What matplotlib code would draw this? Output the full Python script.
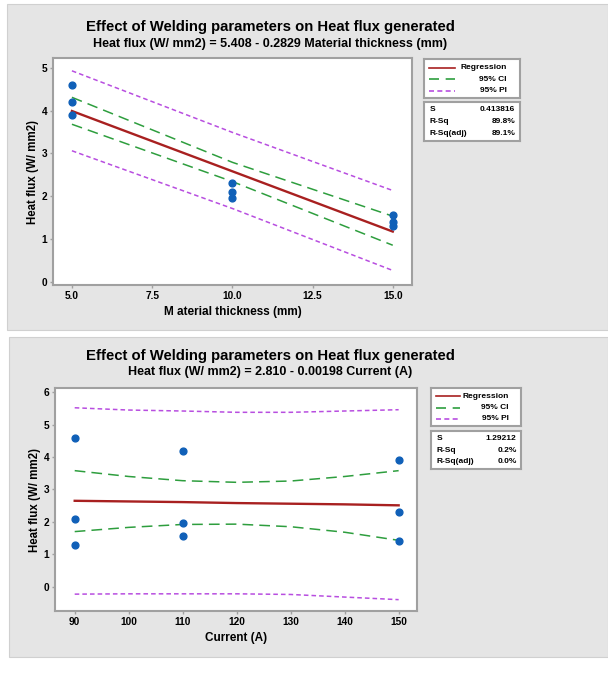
import matplotlib
matplotlib.use("Agg")
import matplotlib.pyplot as plt
from matplotlib.patches import Rectangle

plt.rcParams['font.family'] = ['Liberation Sans', 'DejaVu Sans']
plt.rcParams['font.weight'] = 'bold'

W, H = 608, 691

# top chart: material thickness
thick_x = [5, 5, 5, 10, 10, 10, 15, 15, 15]
thick_y = [4.6, 4.2, 3.9, 2.3, 2.1, 1.95, 1.55, 1.4, 1.3]
thick_band_x = [5, 10, 15]
thick_reg = [3.99, 2.58, 1.17]
thick_ci_hi = [4.31, 2.79, 1.53]
thick_ci_lo = [3.68, 2.34, 0.85]
thick_pi_hi = [4.93, 3.49, 2.13]
thick_pi_lo = [3.06, 1.71, 0.26]
thick_ticks = [5.0, 7.5, 10.0, 12.5, 15.0]
thick_stats = ["0.413816", "89.8%", "89.1%"]

# bottom chart: current
cur_x = [90, 90, 90, 110, 110, 110, 150, 150, 150]
cur_y = [4.6, 2.1, 1.3, 4.2, 1.95, 1.55, 3.9, 2.3, 1.4]
cur_band_x = [90, 100, 110, 120, 130, 140, 150]
cur_reg = [2.65, 2.63, 2.61, 2.58, 2.56, 2.54, 2.51]
cur_ci_hi = [3.58, 3.40, 3.27, 3.22, 3.26, 3.40, 3.58]
cur_ci_lo = [1.70, 1.83, 1.92, 1.93, 1.85, 1.68, 1.43]
cur_pi_hi = [5.52, 5.45, 5.42, 5.38, 5.38, 5.42, 5.46]
cur_pi_lo = [-0.23, -0.22, -0.22, -0.22, -0.24, -0.32, -0.40]
cur_ticks = [90, 100, 110, 120, 130, 140, 150]
cur_stats = ["1.29212", "0.2%", "0.0%"]

stat_names = ["S", "R-Sq", "R-Sq(adj)"]

RED = "#a82020"
GREEN = "#2e9e3e"
PURPLE = "#b84ee0"
BLUE = "#1060b8"
FRAME = "#a0a0a0"
BG = "#e5e5e5"

fig = plt.figure(figsize=(W / 100, H / 100), dpi=100)
fig.patch.set_facecolor("white")


def box(x0, y0, x1, y1):
    return [x0 / W, 1 - y1 / H, (x1 - x0) / W, (y1 - y0) / H]


def panel(x0, y0, x1, y1):
    fig.patches.append(Rectangle((x0 / W, 1 - y1 / H), (x1 - x0) / W, (y1 - y0) / H,
                                 transform=fig.transFigure, facecolor=BG,
                                 edgecolor="#d0d0d0", lw=0.8, zorder=-10))


def legend_box(x0, y0, x1, y1, stats, sy0, sy1):
    ax = fig.add_axes(box(x0, y0, x1, y1))
    ax.set_xlim(0, 1)
    ax.set_ylim(0, 1)
    ax.set_xticks([])
    ax.set_yticks([])
    for s in ax.spines.values():
        s.set_color(FRAME)
        s.set_linewidth(1.5)
    rows = [("Regression", RED, "-"), ("95% CI", GREEN, (0, (6, 4))),
            ("95% PI", PURPLE, (0, (3, 2)))]
    for i, (lab, col, ls) in enumerate(rows):
        yy = 0.78 - i * 0.295
        ax.plot([0.05, 0.32], [yy, yy], color=col, ls=ls, lw=1.2)
        ax.text(0.86, yy, lab, ha="right", va="center", fontsize=6, fontweight="bold")
    ax2 = fig.add_axes(box(x0, sy0, x1, sy1))
    ax2.set_xlim(0, 1)
    ax2.set_ylim(0, 1)
    ax2.set_xticks([])
    ax2.set_yticks([])
    for s in ax2.spines.values():
        s.set_color(FRAME)
        s.set_linewidth(1.5)
    for i, (n, v) in enumerate(zip(stat_names, stats)):
        yy = 0.8 - i * 0.3
        ax2.text(0.06, yy, n, ha="left", va="center", fontsize=6, fontweight="bold")
        ax2.text(0.95, yy, v, ha="right", va="center", fontsize=6, fontweight="bold")


def chart(rect, px, py, bx, reg, cih, cil, pih, pil, xlim, ylim, xticks, yticks,
          xlabel, fmt):
    ax = fig.add_axes(rect)
    ax.set_facecolor("white")
    ax.plot(bx, pih, color=PURPLE, ls=(0, (3, 2)), lw=1.1)
    ax.plot(bx, pil, color=PURPLE, ls=(0, (3, 2)), lw=1.1)
    ax.plot(bx, cih, color=GREEN, ls=(0, (7, 4)), lw=1.1)
    ax.plot(bx, cil, color=GREEN, ls=(0, (7, 4)), lw=1.1)
    ax.plot(bx, reg, color=RED, lw=1.7)
    ax.scatter(px, py, s=24, color=BLUE, zorder=5)
    ax.set_xlim(*xlim)
    ax.set_ylim(*ylim)
    ax.set_xticks(xticks)
    ax.set_xticklabels([fmt(t) for t in xticks])
    ax.set_yticks(yticks)
    ax.tick_params(labelsize=7.3, color=FRAME, length=2.5, width=1, pad=1.5)
    for lab in ax.get_xticklabels() + ax.get_yticklabels():
        lab.set_fontweight("bold")
    for s in ax.spines.values():
        s.set_color(FRAME)
        s.set_linewidth(1.5)
    ax.set_xlabel(xlabel, fontsize=8.5, fontweight="bold", labelpad=4)
    ax.set_ylabel("Heat flux (W/ mm2)", fontsize=8.3, fontweight="bold", labelpad=2)
    return ax


# top panel
panel(7, 4, 608, 330)
fig.text(270 / W, 1 - 27 / H, "Effect of Welding parameters on Heat flux generated",
         ha="center", va="center", fontsize=10.75, fontweight="bold")
fig.text(270 / W, 1 - 44 / H, "Heat flux (W/ mm2) = 5.408 - 0.2829 Material thickness (mm)",
         ha="center", va="center", fontsize=9, fontweight="bold")
chart(box(53, 58, 412, 285), thick_x, thick_y, thick_band_x, thick_reg,
      thick_ci_hi, thick_ci_lo, thick_pi_hi, thick_pi_lo,
      (4.41, 15.6), (-0.08, 5.23), thick_ticks, [0, 1, 2, 3, 4, 5],
      "M aterial thickness (mm)", lambda t: f"{t:.1f}")
legend_box(424, 59, 520, 98, thick_stats, 102, 141)

# bottom panel
panel(9, 337, 608, 657)
fig.text(270 / W, 1 - 356 / H, "Effect of Welding parameters on Heat flux generated",
         ha="center", va="center", fontsize=10.75, fontweight="bold")
fig.text(270 / W, 1 - 372 / H, "Heat flux (W/ mm2) = 2.810 - 0.00198 Current (A)",
         ha="center", va="center", fontsize=9, fontweight="bold")
chart(box(55, 388, 417, 611), cur_x, cur_y, cur_band_x, cur_reg,
      cur_ci_hi, cur_ci_lo, cur_pi_hi, cur_pi_lo,
      (86.35, 153.4), (-0.75, 6.13), cur_ticks, [0, 1, 2, 3, 4, 5, 6],
      "Current (A)", lambda t: f"{t:d}")
legend_box(431, 388, 521, 426, cur_stats, 431, 469)

fig.savefig("out.png", dpi=100)
